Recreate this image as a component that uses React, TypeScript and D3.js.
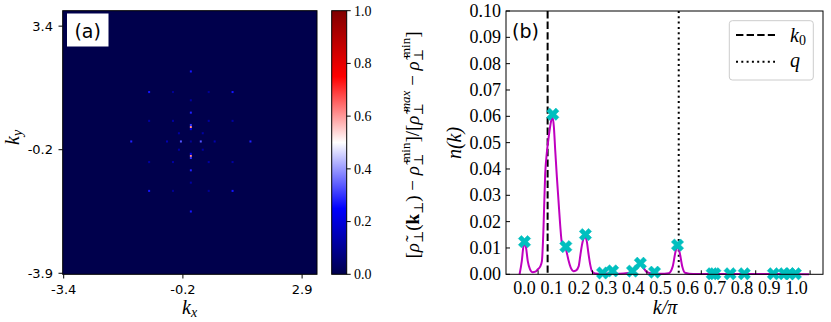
import React from 'react';
import * as d3 from 'd3';

const W = 831;
const H = 322;

// panel (a): bright cells of the map, [column, row, value] on a 128x128 grid
const heatSize = 128;
const heatTickIdx = [0, 60, 120];
const heatXLabels = ['-3.4', '-0.2', '2.9'];
const heatYLabels = ['-3.9', '-0.2', '3.4'];
const heatSpots: [number, number, number][] = [
  [64, 71, 0.62], [64, 57, 0.62],
  [64, 72, 0.3], [64, 70, 0.22], [64, 58, 0.22], [64, 56, 0.3],
  [64, 78, 0.28], [64, 50, 0.28],
  [64, 84, 0.12], [64, 44, 0.12],
  [64, 98, 0.27], [64, 30, 0.27],
  [64, 64, 0.1],
  [59, 64, 0.33], [69, 64, 0.33],
  [52, 64, 0.14], [76, 64, 0.14],
  [34, 64, 0.28], [94, 64, 0.28],
  [58, 68, 0.12], [70, 68, 0.12], [58, 60, 0.12], [70, 60, 0.12],
  [55, 74, 0.12], [73, 74, 0.12], [55, 54, 0.12], [73, 54, 0.12],
  [43, 74, 0.12], [85, 74, 0.12], [43, 54, 0.12], [85, 54, 0.12],
  [43, 88, 0.27], [85, 88, 0.27], [43, 40, 0.27], [85, 40, 0.27],
  [55, 88, 0.1], [73, 88, 0.1], [55, 40, 0.1], [73, 40, 0.1],
];
const cbarTicks = [0, 0.2, 0.4, 0.6, 0.8, 1.0];

// panel (b): n(k) curve and the sampled points
const curveK = [-0.018, -0.01, -0.004, 0.0, 0.005, 0.012, 0.02, 0.03, 0.04, 0.05, 0.058, 0.064, 0.07, 0.076, 0.082,
  0.09, 0.1, 0.104, 0.108, 0.113, 0.119, 0.125, 0.131, 0.1375, 0.15, 0.157, 0.162, 0.17, 0.18, 0.19, 0.199, 0.205,
  0.211, 0.218, 0.223, 0.229, 0.235, 0.242, 0.248, 0.26, 0.28, 0.3, 0.32, 0.35, 0.38, 0.4, 0.415, 0.426, 0.437, 0.45,
  0.47, 0.5, 0.53, 0.545, 0.555, 0.562, 0.57, 0.58, 0.59, 0.62, 0.7, 0.8, 0.9, 1.046];
const curveN = [0, 0.005, 0.0105, 0.0115, 0.0105, 0.005, 0.002, 0.0008, 0.001, 0.002, 0.003, 0.005, 0.018, 0.038, 0.046,
  0.053, 0.059, 0.0595, 0.056, 0.047, 0.037, 0.028, 0.019, 0.012, 0.0103, 0.0075, 0.0052, 0.0025, 0.0012, 0.0015, 0.003, 0.007,
  0.011, 0.0138, 0.0143, 0.0125, 0.008, 0.0035, 0.0012, 0.0003, 0.0002, 0.0003, 0.0004, 0.0002, 0.0005, 0.0012, 0.0028, 0.0036, 0.0025, 0.0008,
  0.0003, 0.0002, 0.0004, 0.003, 0.0085, 0.0105, 0.0085, 0.003, 0.0006, 0.0001, 0.0001, 0.0001, 0.0001, 0];
const markK = [0.0, 0.104, 0.152, 0.224, 0.287, 0.324, 0.397, 0.426, 0.478, 0.5625, 0.69, 0.7, 0.756, 0.808, 0.915, 0.955, 0.974, 0.996];
const markN = [0.0124, 0.0608, 0.0105, 0.0151, 0.0005, 0.0013, 0.0012, 0.0042, 0.0008, 0.0111, 0.0002, 0.0002, 0.0002, 0.0002, 0.0002, 0.0002, 0.0002, 0.0002];
const k0 = 0.085;
const qPos = 0.567;
const xTicks = [0, 0.1, 0.2, 0.3, 0.4, 0.5, 0.6, 0.7, 0.8, 0.9, 1.0];
const xTickMarks = [0.05, 0.25, 0.45, 0.65, 0.85, 1.05];
const yTicks = [0, 0.01, 0.02, 0.03, 0.04, 0.05, 0.06, 0.07, 0.08, 0.09, 0.1];

const seismic = d3.scaleLinear<string>()
  .domain([0, 0.25, 0.5, 0.75, 1])
  .range(['#00004c', '#0000ff', '#ffffff', '#ff0000', '#800000']);

const SANS = "'DejaVu Sans', sans-serif";
const SERIF = "'Liberation Serif', 'DejaVu Serif', 'Times New Roman', serif";

export default function App() {
  // panel (a)
  const hx = d3.scaleLinear().domain([-0.5, heatSize - 0.5]).range([62.7, 317]);
  const hy = d3.scaleLinear().domain([-0.5, heatSize - 0.5]).range([274.3, 10.7]);
  const cw = hx(1) - hx(0);
  const ch = hy(0) - hy(1);
  const cy = d3.scaleLinear().domain([0, 1]).range([274.3, 10.7]);

  // panel (b)
  const bx = d3.scaleLinear().domain([-0.068, 1.0974]).range([506, 823]);
  const by = d3.scaleLinear().domain([0, 0.1]).range([274.3, 11]);
  const curve = d3.line<number>()
    .x((d, i) => bx(curveK[i]))
    .y(d => by(d))
    .curve(d3.curveMonotoneX);
  const marker = d3.symbol(d3.symbolCross, 95)();

  return (
    <svg width={W} height={H} style={{ position: 'absolute', left: 0, top: 0, background: '#fff' }}>
      <defs>
        <linearGradient id="seis" x1="0" y1="1" x2="0" y2="0">
          {[0, 0.25, 0.5, 0.75, 1].map(t => (
            <stop key={t} offset={t} stopColor={seismic(t)} />
          ))}
        </linearGradient>
      </defs>

      {/* ---------- (a) map ---------- */}
      <rect x={hx(-0.5)} y={hy(heatSize - 0.5)} width={hx(heatSize - 0.5) - hx(-0.5)}
        height={hy(-0.5) - hy(heatSize - 0.5)} fill={seismic(0)} />
      {heatSpots.map(([c, r, v], i) => (
        <rect key={i} x={hx(c - 0.5)} y={hy(r + 0.5)} width={cw} height={ch} fill={seismic(v)} />
      ))}
      <rect x={hx(-0.5)} y={hy(heatSize - 0.5)} width={hx(heatSize - 0.5) - hx(-0.5)}
        height={hy(-0.5) - hy(heatSize - 0.5)} fill="none" stroke="#000" strokeWidth={1} />
      {heatTickIdx.map((t, i) => (
        <g key={'hx' + i}>
          <line x1={hx(t)} x2={hx(t)} y1={274.3} y2={278.5} stroke="#000" />
          <text x={hx(t)} y={294} textAnchor="middle" fontFamily={SANS} fontSize={13}>{heatXLabels[i]}</text>
          <line x1={58.5} x2={62.7} y1={hy(t)} y2={hy(t)} stroke="#000" />
          <text x={53} y={hy(t)} dy="0.35em" textAnchor="end" fontFamily={SANS} fontSize={13}>{heatYLabels[i]}</text>
        </g>
      ))}
      <rect x={67} y={13.5} width={41.5} height={33} fill="#fff" />
      <text x={87.7} y={37.5} textAnchor="middle" fontFamily={SANS} fontSize={19}>(a)</text>
      <text x={182} y={314} fontFamily={SERIF} fontStyle="italic" fontSize={20}>k<tspan fontSize={14} dy={3}>x</tspan></text>
      <text transform="translate(19,145) rotate(-90)" fontFamily={SERIF} fontStyle="italic" fontSize={20}>k<tspan fontSize={14} dy={3}>y</tspan></text>

      {/* colorbar */}
      <rect x={331.7} y={cy(1)} width={15} height={cy(0) - cy(1)} fill="url(#seis)" stroke="#000" strokeWidth={1} />
      {cbarTicks.map(t => (
        <g key={'cb' + t}>
          <line x1={346.7} x2={350.7} y1={cy(t)} y2={cy(t)} stroke="#000" />
          <text x={354} y={cy(t)} dy="0.35em" fontFamily={SERIF} fontSize={14}>{t.toFixed(1)}</text>
        </g>
      ))}
      <text transform="translate(419,145) rotate(-90)" textAnchor="middle" fontFamily={SERIF} fontSize={19}>
        [<tspan fontStyle="italic">ρ̃</tspan><tspan fontSize={13} dy={4}>⊥</tspan><tspan dy={-4}>(</tspan><tspan fontWeight="bold">k</tspan><tspan fontSize={13} dy={4}>⊥</tspan><tspan dy={-4}>) − </tspan><tspan fontStyle="italic">ρ̃</tspan><tspan fontSize={13} dy={4}>⊥</tspan><tspan fontSize={13} dx={-9} dy={-13}>min</tspan><tspan dy={9}>]/[</tspan><tspan fontStyle="italic">ρ̃</tspan><tspan fontSize={13} dy={4}>⊥</tspan><tspan fontSize={13} fontStyle="italic" dx={-9} dy={-13}>max</tspan><tspan dy={9}> − </tspan><tspan fontStyle="italic">ρ̃</tspan><tspan fontSize={13} dy={4}>⊥</tspan><tspan fontSize={13} dx={-9} dy={-13}>min</tspan><tspan dy={9}>]</tspan>
      </text>

      {/* ---------- (b) n(k) ---------- */}
      <line x1={bx(k0)} x2={bx(k0)} y1={by(0.1)} y2={by(0)} stroke="#000" strokeWidth={2} strokeDasharray="7.4 3.2" />
      <line x1={bx(qPos)} x2={bx(qPos)} y1={by(0.1)} y2={by(0)} stroke="#000" strokeWidth={2} strokeDasharray="2 3.3" />
      <path d={curve(curveN) || ''} fill="none" stroke="#bf00bf" strokeWidth={2} />
      {markK.map((k, i) => (
        <path key={'m' + i} d={marker || ''} transform={`translate(${bx(k)},${by(markN[i])}) rotate(45)`}
          fill="#00bfbf" stroke="#00bfbf" strokeWidth={0.5} />
      ))}
      <rect x={bx(-0.068)} y={by(0.1)} width={bx(1.0974) - bx(-0.068)} height={by(0) - by(0.1)}
        fill="none" stroke="#000" strokeWidth={1} />
      {yTicks.map(t => (
        <g key={'by' + t}>
          <line x1={bx(-0.068)} x2={bx(-0.068) + 4} y1={by(t)} y2={by(t)} stroke="#000" />
          <text x={501} y={by(t)} dy="0.33em" textAnchor="end" fontFamily={SERIF} fontSize={18}>{t.toFixed(2)}</text>
        </g>
      ))}
      {xTickMarks.map(t => (
        <line key={'bt' + t} x1={bx(t)} x2={bx(t)} y1={by(0)} y2={by(0) - 4} stroke="#000" />
      ))}
      {xTicks.map(t => (
        <text key={'bx' + t} x={bx(t)} y={293.5} textAnchor="middle" fontFamily={SERIF} fontSize={18}>{t.toFixed(1)}</text>
      ))}
      <text x={512} y={37.5} fontFamily={SANS} fontSize={19}>(b)</text>
      <text x={665} y={314} textAnchor="middle" fontFamily={SERIF} fontStyle="italic" fontSize={20}>k/π</text>
      <text transform="translate(461,143) rotate(-90)" textAnchor="middle" fontFamily={SERIF} fontStyle="italic" fontSize={20}>n(k)</text>

      {/* legend */}
      <rect x={729.3} y={20.7} width={84} height={59.3} rx={3} fill="#fff" fillOpacity={0.8} stroke="#cccccc" strokeWidth={1} />
      <line x1={736} x2={775} y1={35} y2={35} stroke="#000" strokeWidth={2} strokeDasharray="7.4 3.2" />
      <text x={790} y={42} fontFamily={SERIF} fontStyle="italic" fontSize={20}>k<tspan fontSize={14} fontStyle="normal" dy={3}>0</tspan></text>
      <line x1={736} x2={775} y1={61.7} y2={61.7} stroke="#000" strokeWidth={2} strokeDasharray="2 3.3" />
      <text x={790} y={67} fontFamily={SERIF} fontStyle="italic" fontSize={20}>q</text>
    </svg>
  );
}
